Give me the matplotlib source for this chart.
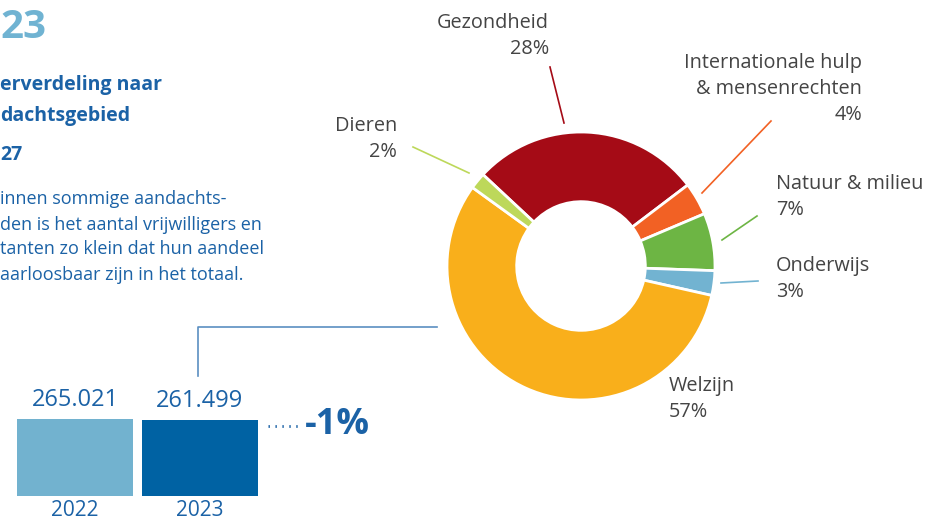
import matplotlib.pyplot as plt
import numpy as np

# donut data, clockwise from Gezondheid
categories = ["Gezondheid", "Internationale hulp\n& mensenrechten", "Natuur & milieu",
              "Onderwijs", "Welzijn", "Dieren"]
shares = [28, 4, 7, 3, 57, 2]
colors = ["#A50B16", "#F26124", "#6DB544", "#72B3D1", "#F9AF1B", "#BDD85A"]

# bar data
years = ["2022", "2023"]
volunteers = [265021, 261499]
bar_colors = ["#72B2CF", "#0062A3"]
change = "-1%"

W, H = 928, 522
fig = plt.figure(figsize=(W / 100, H / 100), dpi=100)

def px_axes(x0, y0, w, h):
    # axes from pixel box (top-left origin)
    return fig.add_axes([x0 / W, (H - y0 - h) / H, w / W, h / H])

dark = "#1B62A6"
grey = "#444444"
font = "Open Sans"

# overlay for texts and lines, pixel coords
ov = px_axes(0, 0, W, H)
ov.set_xlim(0, W)
ov.set_ylim(H, 0)
ov.axis("off")

# donut
cx, cy, r = 581, 266, 134
pax = px_axes(cx - r, cy - r, 2 * r, 2 * r)
pax.pie(shares, colors=colors, startangle=137, counterclock=False,
        wedgeprops=dict(width=0.52, edgecolor="white", linewidth=2))
pax.set_xlim(-1, 1)
pax.set_ylim(-1, 1)
pax.set_aspect("auto")

# pie labels
lab = dict(fontsize=14.3, color=grey, family=font, linespacing=1.38)
ov.text(549, 36, "Gezondheid\n28%", ha="right", va="center", multialignment="right", **lab)
ov.text(862, 89, "Internationale hulp\n& mensenrechten\n4%", ha="right", va="center",
        multialignment="right", **lab)
ov.text(397, 139, "Dieren\n2%", ha="right", va="center", multialignment="right", **lab)
ov.text(776, 197, "Natuur & milieu\n7%", ha="left", va="center", **lab)
ov.text(776, 279, "Onderwijs\n3%", ha="left", va="center", **lab)
ov.text(669, 399, "Welzijn\n57%", ha="left", va="center", **lab)

# leader lines
ov.plot([564, 550], [123, 67], color=colors[0], lw=1.2)
ov.plot([702, 771], [193, 121], color=colors[1], lw=1.2)
ov.plot([722, 757], [240, 216], color=colors[2], lw=1.2)
ov.plot([721, 758], [283, 281], color=colors[3], lw=1.2)
ov.plot([469, 413], [173, 147], color=colors[5], lw=1.2)

# connector from bar to donut
ov.plot([198, 198, 437], [376, 327, 327], color="#5B8FC1", lw=1.2)

# left column texts
ov.text(0, 28, "23", ha="left", va="center", fontsize=29, fontweight="bold",
        color="#70B3D2", family=font)
sub = dict(ha="left", va="center", fontsize=14, fontweight="bold", color=dark, family=font)
ov.text(0, 85, "erverdeling naar", **sub)
ov.text(0, 116, "dachtsgebied", **sub)
ov.text(0, 155, "27", **sub)
ov.text(0, 237, "innen sommige aandachts-\nden is het aantal vrijwilligers en\n"
        "tanten zo klein dat hun aandeel\naarloosbaar zijn in het totaal.",
        ha="left", va="center", fontsize=13, color=dark, family=font, linespacing=1.5)

# bars
bax = px_axes(0, 396, 300, 100)
x = np.arange(len(years))
bars = bax.bar(x, volunteers, width=0.928, color=bar_colors)
bax.set_xlim(-0.6, 1.8)
bax.set_ylim(0, volunteers[0] * 100 / 77)
bax.axis("off")
for b, v, yr in zip(bars, volunteers, years):
    bax.annotate(f"{v:,}".replace(",", "."), (b.get_x() + b.get_width() / 2, v),
                 xytext=(0, 5), textcoords="offset points", ha="center", va="bottom",
                 fontsize=17, color=dark, family=font, annotation_clip=False)
    bax.annotate(yr, (b.get_x() + b.get_width() / 2, 0), xytext=(0, -3),
                 textcoords="offset points", ha="center", va="top",
                 fontsize=15, color=dark, family=font, annotation_clip=False)

ov.plot([268, 298], [426, 426], color=dark, lw=2, linestyle=(0, (0.5, 2.0)))
ov.text(305, 425, change, ha="left", va="center", fontsize=26, fontweight="bold",
        color=dark, family=font)

fig.savefig("out.png", dpi=100)
